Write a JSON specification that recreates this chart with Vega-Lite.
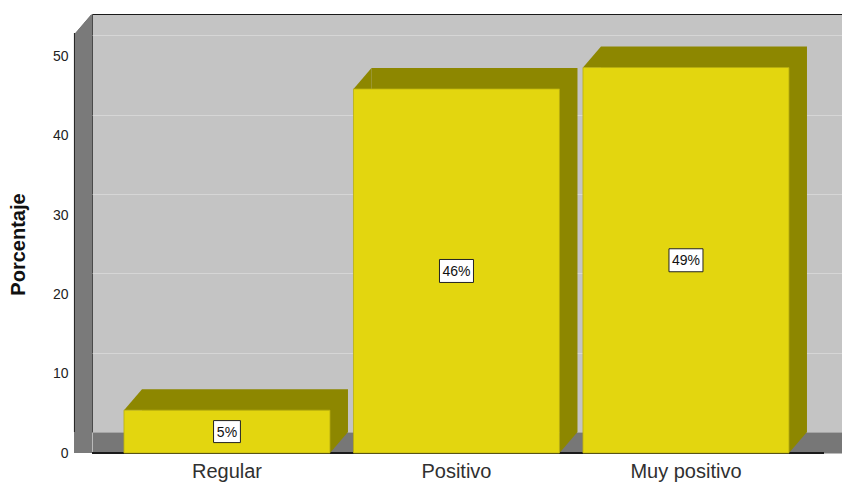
{
  "$schema": "https://vega.github.io/schema/vega-lite/v6.json",
  "autosize": "none",
  "width": 750,
  "height": 418,
  "padding": {"left": 92, "top": 14, "right": 0, "bottom": 54},
  "background": "#ffffff",
  "config": {
    "view": {"fill": "#c4c4c4", "stroke": "#1a1a1a", "strokeWidth": 1},
    "font": "Liberation Sans"
  },
  "data": {
    "values": [
      {"categoria": "Regular", "porcentaje": 5.4, "etiqueta": "5%"},
      {"categoria": "Positivo", "porcentaje": 45.9, "etiqueta": "46%"},
      {"categoria": "Muy positivo", "porcentaje": 48.6, "etiqueta": "49%"}
    ]
  },
  "encoding": {
    "x": {
      "field": "categoria",
      "type": "nominal",
      "sort": ["Regular", "Positivo", "Muy positivo"],
      "scale": {"paddingInner": 0.1024, "paddingOuter": 0.1852, "align": 0.588},
      "axis": {
        "title": null,
        "labelAngle": 0,
        "domainColor": "#777777",
        "domainWidth": 21,
        "offset": 10.5,
        "ticks": false,
        "labelPadding": 19,
        "labelOffset": -18,
        "labelFontSize": 20,
        "labelColor": "#303030",
        "labelFont": "Liberation Sans"
      }
    }
  },
  "layer": [
    {
      "layer": [
        {
          "mark": {"type": "bar", "color": "#8d8700"},
          "encoding": {
            "y": {
              "field": "porcentaje",
              "type": "quantitative",
              "scale": {"domain": [0, 52.7], "nice": false},
              "axis": {
                "title": "Porcentaje",
                "titleFontSize": 20,
                "titleFontWeight": "bold",
                "titleColor": "#111111",
                "titleFont": "Liberation Sans",
                "titleX": -55,
                "titleY": 230,
                "values": [0, 10, 20, 30, 40, 50],
                "domainColor": "#7a7a7a",
                "domainWidth": 18,
                "offset": 9,
                "ticks": false,
                "labelPadding": 15,
                "labelOffset": 21,
                "labelFontSize": 14,
                "labelColor": "#222222",
                "labelFont": "Liberation Sans",
                "grid": true,
                "gridColor": "#d6d6d6",
                "gridWidth": 1
              }
            }
          }
        },
        {
          "mark": {"type": "point", "filled": true, "color": "#8d8700", "opacity": 1, "size": 324, "shape": "M -1 1.1667 L 1 -1.1667 L 1 1.1667 Z", "xOffset": -9, "yOffset": 10.5},
          "encoding": {
            "x": {"field": "categoria", "type": "nominal", "sort": ["Regular", "Positivo", "Muy positivo"], "bandPosition": 0},
            "y": {"field": "porcentaje", "type": "quantitative"}
          }
        },
        {
          "mark": {"type": "point", "filled": true, "color": "#8d8700", "opacity": 1, "size": 324, "shape": "M -1 -1.1667 L 1 -1.1667 L -1 1.1667 Z", "xOffset": -9, "yOffset": 10.5},
          "encoding": {
            "x": {"field": "categoria", "type": "nominal", "sort": ["Regular", "Positivo", "Muy positivo"], "bandPosition": 1},
            "y": {"datum": 0, "type": "quantitative"}
          }
        },
        {
          "mark": {"type": "point", "filled": true, "color": "#7a7a7a", "opacity": 1, "size": 324, "shape": "M -1 -1.1667 L 1 -1.1667 L 1 1.1667 L -1 1.1667 Z", "xOffset": -59, "yOffset": 10.5},
          "encoding": {
            "x": {"datum": "Regular", "type": "nominal", "bandPosition": 0},
            "y": {"datum": 0, "type": "quantitative"}
          }
        },
        {
          "mark": {"type": "point", "filled": true, "color": "#ffffff", "opacity": 1, "size": 324, "shape": "M -1 -1.1667 L 1 -1.1667 L -1 1.1667 Z", "xOffset": -59, "yOffset": 9.5},
          "encoding": {
            "x": {"datum": "Regular", "type": "nominal", "bandPosition": 0},
            "y": {"datum": 52.7, "type": "quantitative"}
          }
        },
        {
          "mark": {"type": "rule", "color": "#1a1a1a", "strokeWidth": 1.5, "xOffset": -18, "x2Offset": -18, "yOffset": 21},
          "encoding": {
            "x": null,
            "y": {"datum": 0, "type": "quantitative"}
          }
        },
        {
          "mark": {"type": "rule", "color": "#2a2a2a", "strokeWidth": 1, "xOffset": -67.5, "yOffset": 19},
          "encoding": {
            "x": {"datum": "Regular", "type": "nominal", "bandPosition": 0}
          }
        },
        {
          "mark": {"type": "bar", "color": "#e3d60f", "stroke": "#b8ad10", "strokeWidth": 0.8, "xOffset": -18, "yOffset": 21, "y2Offset": 21},
          "encoding": {
            "y": {"field": "porcentaje", "type": "quantitative"}
          }
        }
      ]
    },
    {
      "layer": [
        {
          "mark": {"type": "point", "filled": false, "fill": "#ffffff", "fillOpacity": 1, "stroke": "#222222", "strokeWidth": 1, "opacity": 1, "size": 1156, "xOffset": -18, "yOffset": 21},
          "encoding": {
            "y": {"field": "porcentaje", "type": "quantitative", "scale": {"domain": [0, 105.4], "nice": false}, "axis": null},
            "shape": {
              "condition": {"test": "datum.porcentaje < 10", "value": "M -0.79 -0.647 L 0.79 -0.647 L 0.79 0.647 L -0.79 0.647 Z"},
              "value": "M -1 -0.676 L 1 -0.676 L 1 0.676 L -1 0.676 Z"
            }
          }
        },
        {
          "mark": {"type": "text", "fontSize": 14, "color": "#111111", "font": "Liberation Sans", "xOffset": -18, "yOffset": 22, "baseline": "middle", "align": "center"},
          "encoding": {
            "y": {"field": "porcentaje", "type": "quantitative", "scale": {"domain": [0, 105.4], "nice": false}, "axis": null},
            "text": {"field": "etiqueta", "type": "nominal"}
          }
        }
      ]
    }
  ],
  "resolve": {"scale": {"y": "independent"}}
}
